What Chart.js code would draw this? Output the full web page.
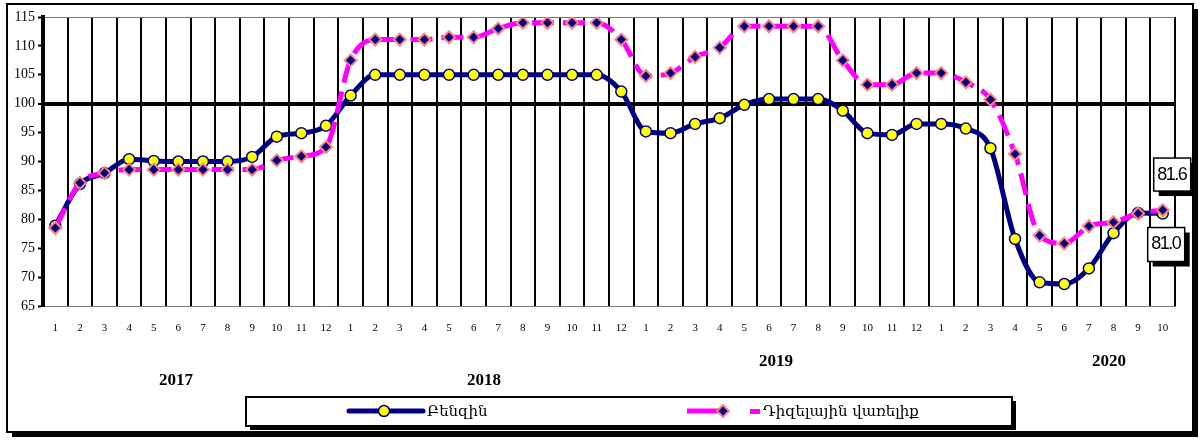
<!DOCTYPE html>
<html>
<head>
<meta charset="utf-8">
<script src="https://cdn.jsdelivr.net/npm/chart.js@4"></script>
<style>
  html, body { margin: 0; padding: 0; background: #fff; }
  #wrap { width: 1200px; height: 440px; position: relative; }
</style>
</head>
<body>
<div id="wrap"><canvas id="chart1" width="1200" height="440"></canvas></div>
<script>
// months of 2017.01 - 2020.10
const monthLabels = ['1','2','3','4','5','6','7','8','9','10','11','12',
                     '1','2','3','4','5','6','7','8','9','10','11','12',
                     '1','2','3','4','5','6','7','8','9','10','11','12',
                     '1','2','3','4','5','6','7','8','9','10'];
const yearLabels = ['2017', '2018', '2019', '2020'];
const seriesNames = ['Բենզին', 'Դիզելային վառելիք'];

const petrol = [78.9, 86.1, 88.0, 90.4, 90.1, 90.0, 90.0, 90.0, 90.8, 94.3, 94.9, 96.2,
                101.4, 105.0, 105.0, 105.0, 105.0, 105.0, 105.0, 105.0, 105.0, 105.0, 105.0, 102.1,
                95.2, 94.9, 96.5, 97.5, 99.8, 100.8, 100.8, 100.8, 98.8, 94.9, 94.6, 96.5,
                96.5, 95.7, 92.3, 76.6, 69.1, 68.8, 71.5, 77.6, 81.1, 81.0];
const diesel = [78.5, 86.3, 88.0, 88.6, 88.6, 88.6, 88.6, 88.6, 88.6, 90.2, 90.9, 92.5,
                107.5, 111.1, 111.1, 111.1, 111.5, 111.5, 113.0, 114.0, 114.0, 114.0, 114.0, 111.1,
                104.8, 105.3, 108.1, 109.7, 113.4, 113.4, 113.4, 113.4, 107.5, 103.3, 103.3, 105.3,
                105.3, 103.7, 100.7, 91.3, 77.2, 75.8, 78.8, 79.5, 81.0, 81.6];

const yMin = 65, yMax = 115, yStep = 5;

function boxWithShadow(ctx, x, y, w, h) {
    ctx.fillStyle = '#000';
    ctx.fillRect(x + 5, y + 5, w, h);
    ctx.fillStyle = '#fff';
    ctx.fillRect(x, y, w, h);
    ctx.strokeStyle = '#000';
    ctx.lineWidth = 1.5;
    ctx.strokeRect(x, y, w, h);
}

// frame, year captions, legend and value callouts
const decorPlugin = {
    id: 'decor',
    afterDraw(chart) {
        const ctx = chart.ctx;
        const xs = chart.scales.x, ys = chart.scales.y;
        ctx.save();

        // outer frame with shadow
        ctx.fillStyle = '#000';
        ctx.fillRect(1193, 9, 5, 428);
        ctx.fillRect(12, 432, 1186, 5);
        ctx.strokeStyle = '#000';
        ctx.lineWidth = 2;
        ctx.strokeRect(7, 4, 1186, 428);

        // years
        ctx.fillStyle = '#000';
        ctx.font = 'bold 17px "Liberation Serif"';
        ctx.textAlign = 'center';
        ctx.textBaseline = 'middle';
        const yearPos = [[176, 381], [484, 381], [776, 362], [1109, 362]];
        yearLabels.forEach((t, i) => ctx.fillText(t, yearPos[i][0], yearPos[i][1]));

        // legend
        ctx.fillStyle = '#000';
        ctx.fillRect(250, 401, 766, 29);
        ctx.fillStyle = '#fff';
        ctx.fillRect(246, 397, 766, 29);
        ctx.lineWidth = 2;
        ctx.strokeRect(246, 397, 766, 29);

        ctx.lineCap = 'round';
        ctx.strokeStyle = '#000080';
        ctx.lineWidth = 5;
        ctx.beginPath(); ctx.moveTo(349, 411); ctx.lineTo(423, 411); ctx.stroke();
        ctx.beginPath(); ctx.arc(384, 411, 5.5, 0, Math.PI * 2);
        ctx.fillStyle = '#FFFF00'; ctx.fill();
        ctx.lineWidth = 1.5; ctx.strokeStyle = '#000080'; ctx.stroke();

        ctx.lineCap = 'butt';
        ctx.strokeStyle = '#FF00FF';
        ctx.lineWidth = 5;
        ctx.beginPath(); ctx.moveTo(687, 411); ctx.lineTo(722, 411); ctx.stroke();
        ctx.fillStyle = '#FF00FF';
        ctx.fillRect(750, 409, 10, 5);
        ctx.beginPath();
        ctx.moveTo(723, 405); ctx.lineTo(729, 411); ctx.lineTo(723, 417); ctx.lineTo(717, 411); ctx.closePath();
        ctx.fillStyle = '#000080'; ctx.fill();
        ctx.lineWidth = 2; ctx.strokeStyle = '#FF8080'; ctx.stroke();

        ctx.fillStyle = '#000';
        ctx.font = '15px "DejaVu Serif"';
        ctx.textAlign = 'left';
        ctx.fillText(seriesNames[0], 427, 412);
        ctx.fillText(seriesNames[1], 763, 412);

        // value callouts for the last month
        const last = monthLabels.length - 1;
        const px = xs.getPixelForValue(last);
        ctx.font = '18px "Liberation Sans"';
        ctx.letterSpacing = '-1.5px';
        ctx.textAlign = 'center';
        const dy = ys.getPixelForValue(diesel[last]);
        boxWithShadow(ctx, px - 9, dy - 52, 37, 33);
        ctx.fillStyle = '#000';
        ctx.fillText(diesel[last].toFixed(1), px + 9, dy - 35);
        const py = ys.getPixelForValue(petrol[last]);
        boxWithShadow(ctx, px - 15, py + 14, 37, 34);
        ctx.fillStyle = '#000';
        ctx.fillText(petrol[last].toFixed(1), px + 3, py + 31);

        ctx.restore();
    }
};

new Chart(document.getElementById('chart1').getContext('2d'), {
    type: 'line',
    data: {
        labels: monthLabels,
        datasets: [{
            label: seriesNames[1],
            data: diesel,
            order: 0,
            borderColor: '#FF00FF',
            borderWidth: 5,
            borderDash: [22, 9],
            borderCapStyle: 'butt',
            cubicInterpolationMode: 'monotone',
            fill: false,
            pointStyle: 'rectRot',
            pointRadius: 6,
            pointBackgroundColor: '#000080',
            pointBorderColor: '#FF8080',
            pointBorderWidth: 2
        }, {
            label: seriesNames[0],
            data: petrol,
            order: 1,
            borderColor: '#000080',
            borderWidth: 5,
            cubicInterpolationMode: 'monotone',
            fill: false,
            pointStyle: 'circle',
            pointRadius: 5.5,
            pointBackgroundColor: '#FFFF00',
            pointBorderColor: '#000080',
            pointBorderWidth: 1.5
        }]
    },
    options: {
        responsive: false,
        animation: false,
        layout: { padding: { left: 0, top: 17, right: 25, bottom: 0 } },
        plugins: {
            legend: { display: false },
            tooltip: { enabled: false },
            title: { display: false }
        },
        scales: {
            x: {
                type: 'category',
                offset: true,
                afterFit(scale) { scale.height = 134; },
                grid: { offset: true, color: '#000', lineWidth: 2, drawTicks: false },
                border: { display: true, color: '#777', width: 1 },
                ticks: {
                    autoSkip: false, maxRotation: 0, padding: 16,
                    color: '#000', font: { family: 'Liberation Serif', size: 11 }
                }
            },
            y: {
                min: yMin,
                max: yMax,
                afterFit(scale) { scale.width = 43; },
                ticks: {
                    stepSize: yStep, padding: 3, color: '#000',
                    font: { family: 'Liberation Serif', size: 14 }
                },
                grid: {
                    color: c => c.tick && c.tick.value === 100 ? '#000' : (c.tick && c.tick.value === yMax ? '#777' : 'rgba(0,0,0,0)'),
                    lineWidth: c => c.tick && c.tick.value === 100 ? 4 : 1,
                    tickColor: '#000',
                    tickWidth: 2,
                    tickLength: 5
                },
                border: { display: true, color: '#000', width: 4 }
            }
        }
    },
    plugins: [decorPlugin]
});
</script>
</body>
</html>
